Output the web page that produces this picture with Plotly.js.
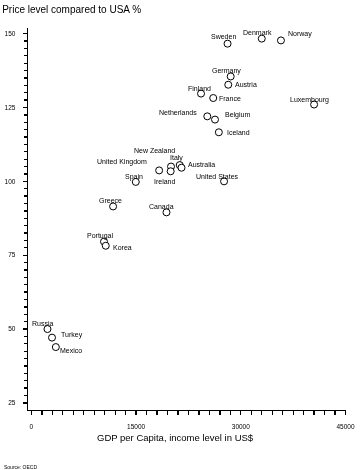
<!DOCTYPE html>
<html>
<head>
<meta charset="utf-8">
<script src="https://cdn.plot.ly/plotly-3.0.1.min.js"></script>
<style>
html,body{margin:0;padding:0;background:#fff}
#chart{width:360px;height:470px;opacity:0.999;will-change:transform}
#chart text{-webkit-font-smoothing:antialiased}
</style>
</head>
<body>
<div id="chart"></div>
<script>
// Data
const countries = ["Sweden","Denmark","Norway","Germany","Austria","Finland","France","Luxembourg","Netherlands","Belgium","Iceland","New Zealand","Ireland","Italy","Australia","United Kingdom","Spain","United States","Greece","Canada","Portugal","Korea","Russia","Turkey","Mexico"];
const gdpPerCapita = [28100,33000,35750,28550,28200,24300,26050,40500,25200,26300,26850,20000,19950,21250,21500,18300,14950,27600,11700,19350,10400,10650,2300,2950,3500];
const priceLevel = [146.6,148.3,147.7,135.5,132.7,129.7,128.2,126.0,122.0,120.9,116.6,105.0,103.4,105.5,104.6,103.7,99.8,100.0,91.5,89.5,79.6,78.2,50.0,47.1,43.9];
const yTickVals = [25,50,75,100,125,150];
const xTickVals = [0,15000,30000,45000];

// Label placement (pixel offsets from each marker) — layout only
const labelPlace = {
  "Sweden":[-4,7,"center"],"Denmark":[-4,6,"center"],"Norway":[5,6,"left"],
  "Germany":[-4,5,"center"],"Austria":[5,0,"left"],"Finland":[-2,5,"center"],
  "France":[4,0,"left"],"Luxembourg":[-5,5,"center"],"Netherlands":[-8,4,"right"],
  "Belgium":[8,5,"left"],"Iceland":[6,0,"left"],"New Zealand":[-17,16,"center"],
  "Ireland":[-6,-10,"center"],"Italy":[-3,7,"center"],"Australia":[5,3,"left"],
  "United Kingdom":[-10,8,"right"],"Spain":[-2,5,"center"],"United States":[-7,5,"center"],
  "Greece":[-3,6,"center"],"Canada":[-5,6,"center"],"Portugal":[-4,6,"center"],
  "Korea":[5,-2,"left"],"Russia":[-4,6,"center"],"Turkey":[7,3,"left"],"Mexico":[2,-3,"left"]
};

const FONT = "Liberation Sans, Arial, sans-serif";

const trace = {
  type: "scatter", mode: "markers",
  x: gdpPerCapita, y: priceLevel, text: countries,
  marker: {symbol: "circle", size: 7, color: "#ffffff", line: {color: "#000000", width: 1}},
  hoverinfo: "text+x+y"
};

const annotations = countries.map((c, i) => {
  const p = labelPlace[c] || [0, 6, "center"];
  return {
    x: gdpPerCapita[i], y: priceLevel[i], xref: "x", yref: "y",
    text: c, showarrow: false, xanchor: p[2], yanchor: "middle",
    xshift: p[0], yshift: p[1],
    font: {family: FONT, size: 7, color: "#000"}
  };
});

annotations.push({
  xref: "paper", yref: "paper", x: 0.463, y: -0.072, xanchor: "center", yanchor: "middle",
  text: "GDP per Capita, income level in US$", showarrow: false,
  font: {family: FONT, size: 9.5, color: "#000"}
});
annotations.push({
  xref: "paper", yref: "paper", x: -0.082, y: -0.148, xanchor: "left", yanchor: "middle",
  text: "Source: OECD", showarrow: false,
  font: {family: FONT, size: 5, color: "#000"}
});

const layout = {
  width: 360, height: 470,
  margin: {l: 28, r: 14, t: 28, b: 60, pad: 0},
  paper_bgcolor: "#fff", plot_bgcolor: "#fff",
  showlegend: false,
  title: {text: "Price level compared to USA %", x: 0.006, xanchor: "left", xref: "container",
          y: 0.98, yref: "container", yanchor: "middle",
          font: {family: FONT, size: 10, color: "#000"}},
  xaxis: {
    range: [-490, 45070], showgrid: false, zeroline: false,
    showline: true, linecolor: "#000", linewidth: 1.3,
    tickmode: "array", tickvals: xTickVals, ticktext: xTickVals.map(String),
    ticks: "outside", ticklen: 4, tickwidth: 1.3, tickcolor: "#000",
    minor: {dtick: 1500, tick0: 0, ticks: "outside", ticklen: 4, tickwidth: 1.3, tickcolor: "#000", showgrid: false},
    ticklabelstandoff: 6,
    tickfont: {family: FONT, size: 6.5, color: "#000"}
  },
  yaxis: {
    range: [22.6, 151.9], showgrid: false, zeroline: false,
    showline: true, linecolor: "#000", linewidth: 1.3,
    tickmode: "array", tickvals: yTickVals, ticktext: yTickVals.map(String),
    ticks: "outside", ticklen: 4, tickwidth: 1.3, tickcolor: "#000",
    minor: {dtick: 2.5, tick0: 0, ticks: "outside", ticklen: 3, tickwidth: 1.3, tickcolor: "#000", showgrid: false},
    ticklabelstandoff: 6,
    tickfont: {family: FONT, size: 6.5, color: "#000"}
  },
  annotations: annotations
};

Plotly.newPlot("chart", [trace], layout, {displayModeBar: false, staticPlot: true});
</script>
</body>
</html>
